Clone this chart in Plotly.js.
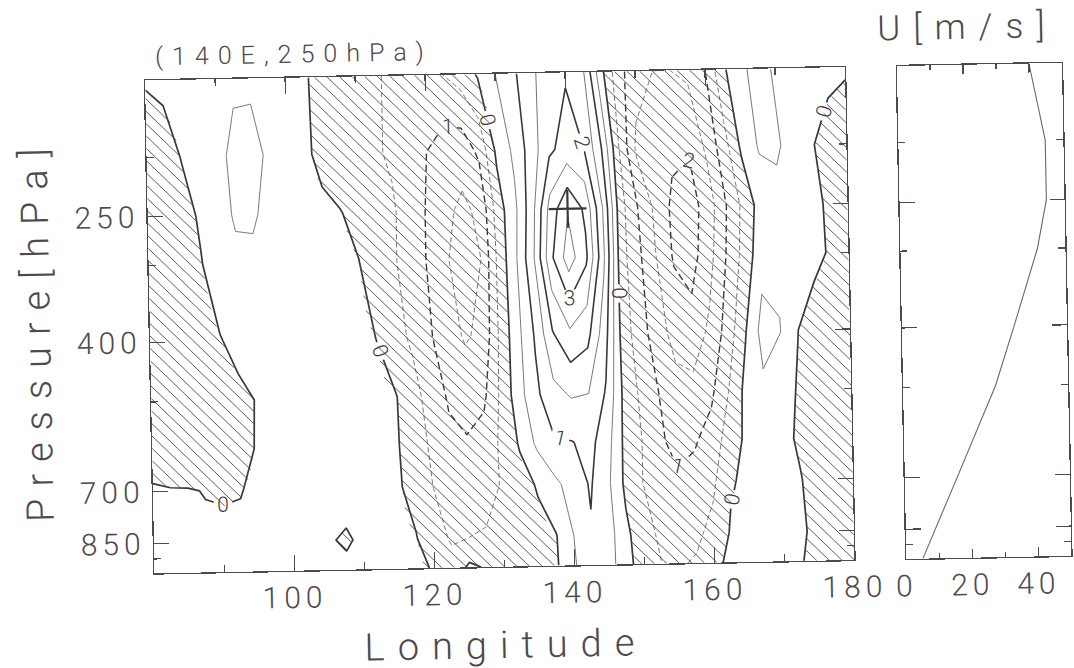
<!DOCTYPE html>
<html><head><meta charset="utf-8">
<script src="https://cdn.plot.ly/plotly-3.0.1.min.js"></script>
<style>
html,body{margin:0;padding:0;background:#fff;overflow:hidden;}
#chart{width:1074px;height:668px;transform:rotate(-1.1deg);transform-origin:537px 334px;}
#chart .xtick text, #chart .ytick text, #chart .x2tick text {letter-spacing:5px;}
#chart .xtitle {letter-spacing:13px;}
#chart .ytitle {letter-spacing:12px;}
#chart .annotation-text {letter-spacing:9px;}
#chart g.annotation[data-index="1"] .annotation-text {letter-spacing:13px;}
</style>
</head><body><div id="chart"></div>
<script>
// ---------- data ----------
const lons = [80,82.5,85,87.5,90,92.5,95,97.5,100,102.5,105,107.5,110,112.5,115,117.5,120,122.5,125,127.5,130,132.5,135,137.5,140,142.5,145,147.5,150,152.5,155,157.5,160,162.5,165,167.5,170,172.5,175,177.5,180];
const levels = [150,200,250,300,400,500,600,700,850,950];

const z_150hPa = [0.05,0.1,0.15,0.25,0.35,0.45,0.45,0.35,0.2,0.05, -0.1,-0.2,-0.3,-0.45,-0.55,-0.6,-0.6,-0.5,-0.3,0.05, 0.5,0.9,1.35,1.8,1.95,1.6,0.2,-0.8,-1.3,-1.5, -1.5,-1.4,-1.0,-0.1,0.4,0.65,0.45,0.3,0.2,0.1,0.05];
const z_200hPa = [-0.35,-0.2,0.02,0.2,0.4,0.58,0.6,0.45,0.25,0.08, -0.1,-0.25,-0.35,-0.45,-0.55,-0.75,-1.0,-1.25,-1.3,-0.9, 0.1,0.6,1.25,1.9,2.2,2.0,1.0,-0.5,-1.6,-1.85, -1.9,-1.95,-1.4,-0.7,0.1,0.55,0.55,0.35,0.03,-0.15,-0.25];
const z_250hPa = [-0.45,-0.35,-0.15,0.05,0.3,0.55,0.55,0.38,0.22,0.12, 0.08,0.02,-0.12,-0.3,-0.45,-0.7,-1.05,-1.4,-1.6,-1.4, -0.25,0.4,1.35,2.7,3.45,2.9,1.5,-0.3,-1.0,-1.6, -2.1,-2.2,-1.8,-1.05,-0.4,0.2,0.4,0.35,0.12,-0.08,-0.3];
const z_300hPa = [-0.45,-0.35,-0.22,-0.02,0.2,0.4,0.42,0.35,0.25,0.2, 0.15,0.08,0.01,-0.22,-0.45,-0.72,-1.05,-1.45,-1.75,-1.5, -0.35,0.45,1.45,2.9,3.75,3.1,1.6,-0.3,-0.9,-1.5, -2.05,-2.2,-1.7,-1.0,-0.35,0.3,0.4,0.35,0.12,-0.05,-0.3];
const z_400hPa = [-0.4,-0.35,-0.28,-0.15,-0.02,0.1,0.2,0.25,0.25,0.22, 0.2,0.15,0.08,-0.01,-0.3,-0.6,-0.95,-1.3,-1.55,-1.4, -0.4,0.35,1.05,1.95,2.4,2.15,1.2,-0.2,-0.8,-1.25, -1.7,-1.8,-1.4,-0.8,-0.05,0.68,0.52,0.01,-0.2,-0.3,-0.35];
const z_500hPa = [-0.35,-0.3,-0.25,-0.2,-0.15,-0.08,0.01,0.1,0.15,0.18, 0.18,0.15,0.12,0.08,0.02,-0.3,-0.75,-1.05,-1.2,-1.1, -0.4,0.3,0.9,1.35,1.55,1.5,0.95,-0.1,-0.6,-1.0, -1.3,-1.35,-1.1,-0.5,0.15,0.4,0.15,-0.03,-0.25,-0.35,-0.4];
const z_600hPa = [-0.2,-0.2,-0.25,-0.25,-0.2,-0.1,0.02,0.1,0.15,0.15, 0.15,0.12,0.1,0.08,0.03,-0.2,-0.6,-0.9,-0.95,-0.8, -0.4,0.05,0.6,0.95,0.98,1.15,0.7,-0.1,-0.5,-0.95, -1.1,-1.05,-0.8,-0.25,0.1,0.2,0.1,-0.05,-0.2,-0.3,-0.35];
const z_700hPa = [0.05,0.02,0.02,-0.01,-0.02,-0.01,0.05,0.08,0.1,0.1, 0.1,0.1,0.1,0.08,0.05,-0.15,-0.5,-0.8,-0.85,-0.7, -0.45,-0.2,0.05,0.4,0.7,1.05,0.6,-0.1,-0.5,-0.85, -0.95,-0.85,-0.6,-0.05,0.1,0.15,0.1,0.02,-0.15,-0.25,-0.3];
const z_850hPa = [0.05,0.05,0.05,0.05,0.05,0.05,0.05,0.05,0.05,0.05, 0.02,-0.03,0.05,0.05,0.05,0.02,-0.3,-0.55,-0.5,-0.45, -0.4,-0.3,-0.15,-0.02,0.5,0.95,0.7,0.1,-0.3,-0.6, -0.7,-0.6,-0.35,0.05,0.15,0.2,0.15,0.05,-0.1,-0.2,-0.25];
const z_950hPa = [0.05,0.05,0.05,0.05,0.05,0.05,0.05,0.05,0.05,0.05, 0.05,0.05,0.05,0.05,0.05,0.05,-0.02,-0.35,0.1,-0.05, -0.35,-0.3,-0.2,-0.05,0.45,0.85,0.7,0.15,-0.25,-0.5, -0.55,-0.45,-0.1,0.1,0.15,0.15,0.12,0.02,-0.15,-0.2,-0.25];

const lonTickVals = [100,120,140,160,180];
const lonMinorVals = [90,110,130,150,170];
const pTickVals = [250,400,700,850];
const pMinorVals = [200,300,500,900];

const basePointLon = [140];
const basePointP = [250];

// zonal wind profile (right panel)
const uLevels = [150,200,250,300,400,500,700,850,950];
const uWind   = [40,44.5,44.5,41.5,34,28,16,9,5];
const uTickVals = [0,20,40];
const uMinorVals = [10,30];

// ---------- build ----------
const Z = [z_150hPa,z_200hPa,z_250hPa,z_300hPa,z_400hPa,z_500hPa,z_600hPa,z_700hPa,z_850hPa,z_950hPa];
const ZN = Z.map(r => r.map(v => -v));

const W = 1074, H = 668, ML = 150, MR = 7, MT = 73, MB = 102;
const PW = W - ML - MR, PH = H - MT - MB;
const mainW = 700, gapW = 52;
const xDom = [0, mainW / PW];
const x2Dom = [(mainW + gapW) / PW, 1];
const lonMin = 80, lonMax = 180, pTop = 150, pBot = 950;
const yRange = [Math.log10(pBot), Math.log10(pTop)];

function zAt(lon, p) {
  let i = 0; while (i < lons.length - 2 && lon > lons[i + 1]) i++;
  let j = 0; while (j < levels.length - 2 && p > levels[j + 1]) j++;
  const tx = (lon - lons[i]) / (lons[i + 1] - lons[i]);
  const ty = (p - levels[j]) / (levels[j + 1] - levels[j]);
  const a = Z[j][i], b = Z[j][i + 1], c = Z[j + 1][i], d = Z[j + 1][i + 1];
  return (1 - ty) * ((1 - tx) * a + tx * b) + ty * ((1 - tx) * c + tx * d);
}
// hatch lines ("\" direction) clipped to negative values
const hx = [], hy = [];
(function () {
  const S = 12.5;
  const lt = Math.log10(pTop), lb = Math.log10(pBot);
  const toLon = x => lonMin + (lonMax - lonMin) * x / mainW;
  const toP = y => Math.pow(10, lt + (lb - lt) * y / PH);
  for (let c = -PH; c < mainW; c += S) {
    const x0 = Math.max(0, c), x1 = Math.min(mainW, PH + c);
    if (x1 <= x0) continue;
    let prevX = x0, prevV = zAt(toLon(x0), toP(x0 - c));
    let inside = prevV < 0;
    if (inside) { hx.push(toLon(x0)); hy.push(toP(x0 - c)); }
    const n = Math.ceil(x1 - x0);
    for (let k = 1; k <= n; k++) {
      const x = Math.min(x1, x0 + k);
      const v = zAt(toLon(x), toP(x - c));
      const nowIn = v < 0;
      if (nowIn !== inside) {
        const f = prevV / (prevV - v);
        const xc = prevX + f * (x - prevX);
        hx.push(toLon(xc)); hy.push(toP(xc - c));
        if (!nowIn) { hx.push(null); hy.push(null); }
        inside = nowIn;
      }
      prevX = x; prevV = v;
    }
    if (inside) { hx.push(toLon(x1)); hy.push(toP(x1 - c)); hx.push(null); hy.push(null); }
  }
})();

const FONT = 'Roboto, "DejaVu Sans", sans-serif';
const INK = '#4d494c';
const DARK = '#3a3639';
const THIN = '#6a6669';
const labelFont = {family: FONT, size: 21, color: DARK, weight: 300};

const base = {type: 'contour', x: lons, y: levels, hoverinfo: 'skip', showscale: false,
  autocontour: false, xaxis: 'x', yaxis: 'y'};

const traces = [
  {type: 'scatter', mode: 'lines', x: hx, y: hy, line: {color: INK, width: 0.9},
   hoverinfo: 'skip', xaxis: 'x', yaxis: 'y', connectgaps: false},
  Object.assign({}, base, {z: Z, contours: {start: 0.5, end: 4.5, size: 1, coloring: 'none', showlabels: false},
    line: {color: THIN, width: 0.9, smoothing: 0}}),
  Object.assign({}, base, {z: Z, contours: {start: 1, end: 4, size: 1, coloring: 'none', showlabels: true, labelfont: labelFont},
    line: {color: DARK, width: 1.6, smoothing: 0}}),
  Object.assign({}, base, {z: Z, contours: {start: 0, end: 0, size: 1, coloring: 'none', showlabels: true, labelfont: labelFont},
    line: {color: DARK, width: 1.7, smoothing: 0}}),
  Object.assign({}, base, {z: ZN, contours: {start: 0.5, end: 2.5, size: 1, coloring: 'none', showlabels: false},
    line: {color: THIN, width: 0.9, dash: '5px,3px', smoothing: 0}}),
  Object.assign({}, base, {z: ZN, contours: {start: 1, end: 2, size: 1, coloring: 'none', showlabels: true, labelfont: labelFont},
    line: {color: DARK, width: 1.4, dash: '7px,4px', smoothing: 0}}),
  {type: 'scatter', mode: 'markers', x: basePointLon, y: basePointP, hoverinfo: 'skip',
   marker: {symbol: 'cross-thin', size: 27, line: {width: 2.2, color: DARK}}, xaxis: 'x', yaxis: 'y'},
  {type: 'scatter', mode: 'lines', x: uWind, y: uLevels, line: {color: THIN, width: 1.1},
   hoverinfo: 'skip', xaxis: 'x2', yaxis: 'y2'}
];

const axCommon = {ticks: 'inside', tickcolor: INK, tickwidth: 1.2, showline: true, linecolor: INK,
  linewidth: 1.3, mirror: 'ticks', showgrid: false, zeroline: false,
  tickfont: {family: FONT, size: 30, color: INK, weight: 300}};
const minorCommon = {ticks: 'inside', ticklen: 7, tickwidth: 1.2, tickcolor: INK, showgrid: false};

const layout = {
  width: W, height: H,
  margin: {l: ML, r: MR, t: MT, b: MB, pad: 0},
  paper_bgcolor: '#fff', plot_bgcolor: '#fff', showlegend: false,
  font: {family: FONT, color: INK, weight: 300},
  xaxis: Object.assign({}, axCommon, {domain: xDom, anchor: 'y', range: [lonMin, lonMax],
    tickmode: 'array', tickvals: lonTickVals, ticklen: 16, ticklabelstandoff: 0,
    minor: Object.assign({tickmode: 'array', tickvals: lonMinorVals}, minorCommon),
    title: {text: 'Longitude', font: {family: FONT, size: 38, color: INK, weight: 300}, standoff: 21}}),
  yaxis: Object.assign({}, axCommon, {domain: [0, 1], anchor: 'x', type: 'log', range: yRange,
    tickmode: 'array', tickvals: pTickVals, ticktext: pTickVals.map(String), ticklen: 15, ticklabelstandoff: 1,
    minor: Object.assign({tickmode: 'array', tickvals: pMinorVals}, minorCommon),
    title: {text: 'Pressure[hPa]', font: {family: FONT, size: 38, color: INK, weight: 300}, standoff: 29}}),
  xaxis2: Object.assign({}, axCommon, {domain: x2Dom, anchor: 'y2', range: [0, 50],
    tickmode: 'array', tickvals: uTickVals, ticklen: 9, ticklabelstandoff: 0,
    minor: Object.assign({tickmode: 'array', tickvals: uMinorVals}, minorCommon, {ticklen: 5})}),
  yaxis2: Object.assign({}, axCommon, {domain: [0, 1], anchor: 'x2', type: 'log', range: yRange,
    tickmode: 'array', tickvals: pTickVals, ticklen: 15, showticklabels: false,
    minor: Object.assign({tickmode: 'array', tickvals: pMinorVals}, minorCommon)}),
  annotations: [
    {text: '(140E,250hPa)', xref: 'paper', yref: 'paper', x: (299.5 - ML) / PW, y: 1 + (MT - 49) / PH,
     xanchor: 'center', yanchor: 'middle', showarrow: false,
     font: {family: FONT, size: 25, color: INK, weight: 300}},
    {text: 'U[m/s]', xref: 'paper', yref: 'paper', x: (973 - ML) / PW, y: 1 + (MT - 35) / PH,
     xanchor: 'center', yanchor: 'middle', showarrow: false,
     font: {family: FONT, size: 35, color: INK, weight: 300}}
  ]
};

Plotly.newPlot('chart', traces, layout, {staticPlot: true, displayModeBar: false});
</script></body></html>
